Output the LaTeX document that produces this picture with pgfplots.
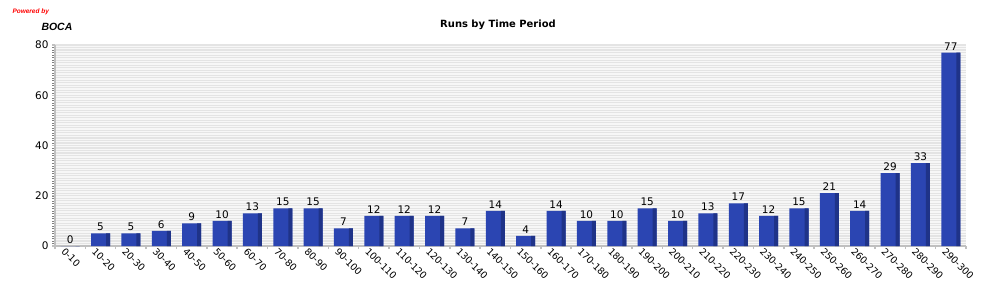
\documentclass[border=0pt]{standalone}
\usepackage{pgfplots}
\pgfplotsset{compat=1.18}
\usepackage{fontspec}
\setmainfont{DejaVu Sans}
\newfontfamily\lib{Liberation Sans}
\definecolor{barblue}{HTML}{2B45B2}
\definecolor{bardark}{HTML}{1F3388}
\definecolor{axgrey}{HTML}{C0C0C0}
\definecolor{stripe}{HTML}{E4E4E4}
\begin{document}
\begin{tikzpicture}[x=1bp,y=1bp]
\useasboundingbox (0,0) rectangle (1000,300);
\node[anchor=west,text=red,font=\lib\bfseries\itshape\fontsize{6.5}{7}\selectfont] at (9,288.5) {Powered by};
\node[anchor=west,font=\lib\bfseries\itshape\fontsize{10.5}{12}\selectfont] at (38,273.5) {BOCA};
\node[font=\bfseries\fontsize{10}{12}\selectfont] at (498,275) {Runs by Time Period};
\begin{axis}[
  at={(55bp,54bp)}, anchor=south west,
  scale only axis, width=911bp, height=201bp,
  xmin=-0.5, xmax=29.5, ymin=0, ymax=80,
  axis background/.style={fill=white!97!black},
  axis x line*=bottom, axis y line*=left,
  axis line style={axgrey, line width=2bp},
  x axis line style={-}, y axis line style={-},
  xtick={0,...,29},
  xticklabels={0-10,10-20,20-30,30-40,40-50,50-60,60-70,70-80,80-90,90-100,100-110,110-120,120-130,130-140,140-150,150-160,160-170,170-180,180-190,190-200,200-210,210-220,220-230,230-240,240-250,250-260,260-270,270-280,280-290,290-300},
  major x tick style={draw=none},
  minor xtick={-0.5,0.5,...,29.5},
  minor x tick style={axgrey, line width=1.5bp},
  minor tick length=3bp,
  ytick={0,20,40,60,80},
  major y tick style={axgrey, line width=1.2bp},
  major tick length=3bp,
  tick align=outside,
  minor ytick={1,2,...,80},
  ymajorgrids=false, yminorgrids=true,
  minor y grid style={stripe, line width=1.1bp},
  x tick label style={rotate=-45, anchor=north west, font=\fontsize{9.5}{11}\selectfont, inner sep=0.5bp, xshift=-5bp, yshift=-1bp},
  y tick label style={font=\fontsize{10.5}{12}\selectfont},
  /pgf/number format/assume math mode=true,
  clip=false,
]
\addplot[ybar, bar width=19bp, fill=barblue, draw=none, bar shift=0bp,
  nodes near coords, every node near coord/.append style={font=\fontsize{10.5}{12}\selectfont, black, yshift=-1bp}]
  coordinates {(0,0)(1,5)(2,5)(3,6)(4,9)(5,10)(6,13)(7,15)(8,15)(9,7)(10,12)(11,12)(12,12)(13,7)(14,14)(15,4)(16,14)(17,10)(18,10)(19,15)(20,10)(21,13)(22,17)(23,12)(24,15)(25,21)(26,14)(27,29)(28,33)(29,77)};
\addplot[ybar, bar width=4bp, fill=bardark, draw=none, bar shift=7.5bp]
  coordinates {(0,0)(1,5)(2,5)(3,6)(4,9)(5,10)(6,13)(7,15)(8,15)(9,7)(10,12)(11,12)(12,12)(13,7)(14,14)(15,4)(16,14)(17,10)(18,10)(19,15)(20,10)(21,13)(22,17)(23,12)(24,15)(25,21)(26,14)(27,29)(28,33)(29,77)};
\end{axis}
\end{tikzpicture}
\end{document}
